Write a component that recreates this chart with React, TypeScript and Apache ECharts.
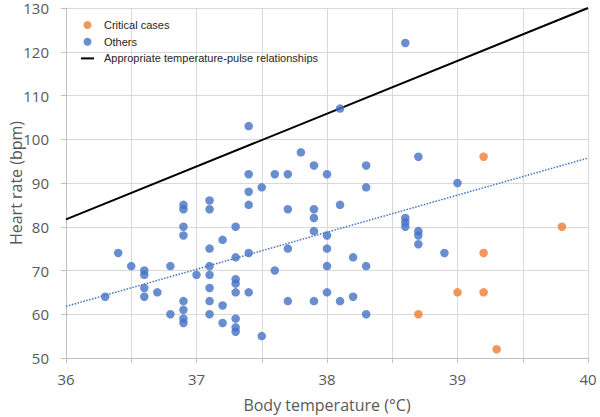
import React, { useEffect, useRef } from "react";
import * as echarts from "echarts";

// Critical cases: [body temperature (°C), heart rate (bpm)]
const criticalTemps = [39.2, 39.2, 39.8, 38.7, 39.0, 39.2, 39.3];
const criticalRates = [96, 74, 80, 60, 65, 65, 52];

// Others
const otherTemps = [
  36.3, 36.4, 36.5, 36.6, 36.6, 36.6, 36.6, 36.7, 36.8, 36.8,
  36.9, 36.9, 36.9, 36.9, 36.9, 36.9, 36.9, 36.9, 37.0,
  37.1, 37.1, 37.1, 37.1, 37.1, 37.1, 37.1, 37.1,
  37.2, 37.2, 37.2,
  37.3, 37.3, 37.3, 37.3, 37.3, 37.3, 37.3, 37.3,
  37.4, 37.4, 37.4, 37.4, 37.4, 37.4,
  37.5, 37.5, 37.6, 37.6,
  37.7, 37.7, 37.7, 37.7, 37.8,
  37.9, 37.9, 37.9, 37.9, 37.9,
  38.0, 38.0, 38.0, 38.0, 38.0,
  38.1, 38.1, 38.1, 38.2, 38.2,
  38.3, 38.3, 38.3, 38.3,
  38.6, 38.6, 38.6, 38.6,
  38.7, 38.7, 38.7, 38.7,
  38.9, 39.0,
];
const otherRates = [
  64, 74, 71, 70, 69, 66, 64, 65, 71, 60,
  85, 84, 80, 78, 63, 61, 59, 58, 69,
  86, 84, 75, 71, 69, 66, 63, 60,
  77, 62, 58,
  80, 73, 68, 67, 65, 59, 57, 56,
  103, 92, 88, 85, 74, 65,
  89, 55, 92, 70,
  92, 84, 75, 63, 97,
  94, 84, 82, 79, 63,
  92, 78, 75, 71, 65,
  107, 85, 63, 73, 64,
  94, 89, 71, 60,
  122, 82, 81, 80,
  96, 79, 78, 76,
  74, 90,
];

// Appropriate temperature-pulse relationship line
const refLineTemps = [36, 40];
const refLineRates = [81.7, 130];

// Linear trendline of "Others" (dotted), endpoints
const trendTemps = [36, 40];
const trendRates = [61.8, 95.7];

const xTicks = [36, 37, 38, 39, 40];

const zip = (a: number[], b: number[]) => a.map((v, i) => [v, b[i]]);

const BLUE = "#4472C4";
const ORANGE = "#ED7D31";
const GRID = "#d9d9d9";
const AXIS = "#bfbfbf";
const LABEL = "#595959";
const FONT = "'Open Sans', 'Noto Sans', sans-serif";

export default function App() {
  const ref = useRef<HTMLDivElement>(null);
  useEffect(() => {
    if (!ref.current) return;
    const chart = echarts.init(ref.current, undefined, { renderer: "svg" });
    chart.setOption({
      animation: false,
      backgroundColor: "#ffffff",
      grid: {
        left: 66,
        right: 12,
        top: 8,
        bottom: 59,
        containLabel: false,
        outerBoundsMode: "none",
      },
      legend: {
        orient: "vertical",
        left: 81,
        top: 19,
        padding: 0,
        itemWidth: 13,
        itemHeight: 8,
        itemGap: 4.7,
        symbolKeepAspect: true,
        textStyle: {
          fontFamily: "'Liberation Sans', Arial, sans-serif",
          fontSize: 11,
          color: "#262626",
          lineHeight: 12,
          padding: [0, 0, 0, 5],
        },
        data: [
          { name: "Critical cases", icon: "circle" },
          { name: "Others", icon: "circle" },
          {
            name: "Appropriate temperature-pulse relationships",
            icon: "path://M0 0H13V2H0Z",
            itemStyle: { color: "#000000" },
          },
        ],
      },
      xAxis: {
        type: "value",
        min: 36,
        max: 40,
        interval: 0.5,
        name: "Body temperature (°C)",
        nameLocation: "middle",
        nameGap: 39,
        nameMoveOverlap: false,
        nameTextStyle: { fontFamily: FONT, fontSize: 16, color: LABEL },
        axisLine: { show: true, lineStyle: { color: AXIS, width: 1 } },
        axisTick: { show: true, length: 5, lineStyle: { color: AXIS } },
        axisLabel: {
          fontFamily: FONT,
          fontSize: 15,
          color: LABEL,
          margin: 13,
          formatter: (v: number) => (xTicks.includes(v) ? String(v) : ""),
        },
        splitLine: { show: true, lineStyle: { color: GRID, width: 1 } },
      },
      yAxis: {
        type: "value",
        min: 50,
        max: 130,
        interval: 10,
        name: "Heart rate (bpm)",
        nameLocation: "middle",
        nameGap: 42.5,
        nameMoveOverlap: false,
        nameTextStyle: { fontFamily: FONT, fontSize: 16, color: LABEL },
        axisLine: { show: true, lineStyle: { color: AXIS, width: 1 } },
        axisTick: { show: true, length: 5, lineStyle: { color: AXIS } },
        axisLabel: { fontFamily: FONT, fontSize: 15, color: LABEL, margin: 17 },
        splitLine: { show: true, lineStyle: { color: GRID, width: 1 } },
      },
      series: [
        {
          name: "Appropriate temperature-pulse relationships",
          type: "line",
          data: zip(refLineTemps, refLineRates),
          symbol: "none",
          lineStyle: { color: "#000000", width: 2 },
          itemStyle: { color: "#000000" },
          z: 2,
        },
        {
          name: "Others trend",
          type: "line",
          data: zip(trendTemps, trendRates),
          symbol: "none",
          lineStyle: { color: BLUE, width: 1.5, type: [1.5, 1.5] },
          z: 2,
        },
        {
          name: "Critical cases",
          type: "scatter",
          data: zip(criticalTemps, criticalRates),
          symbol: "circle",
          symbolSize: 8.5,
          itemStyle: { color: ORANGE },
          z: 3,
        },
        {
          name: "Others",
          type: "scatter",
          data: zip(otherTemps, otherRates),
          symbol: "circle",
          symbolSize: 8.5,
          itemStyle: { color: BLUE },
          z: 3,
        },
      ],
    });
    return () => chart.dispose();
  }, []);
  return (
    <div
      ref={ref}
      style={{ position: "absolute", left: 0, top: 0, width: 600, height: 417 }}
    />
  );
}
